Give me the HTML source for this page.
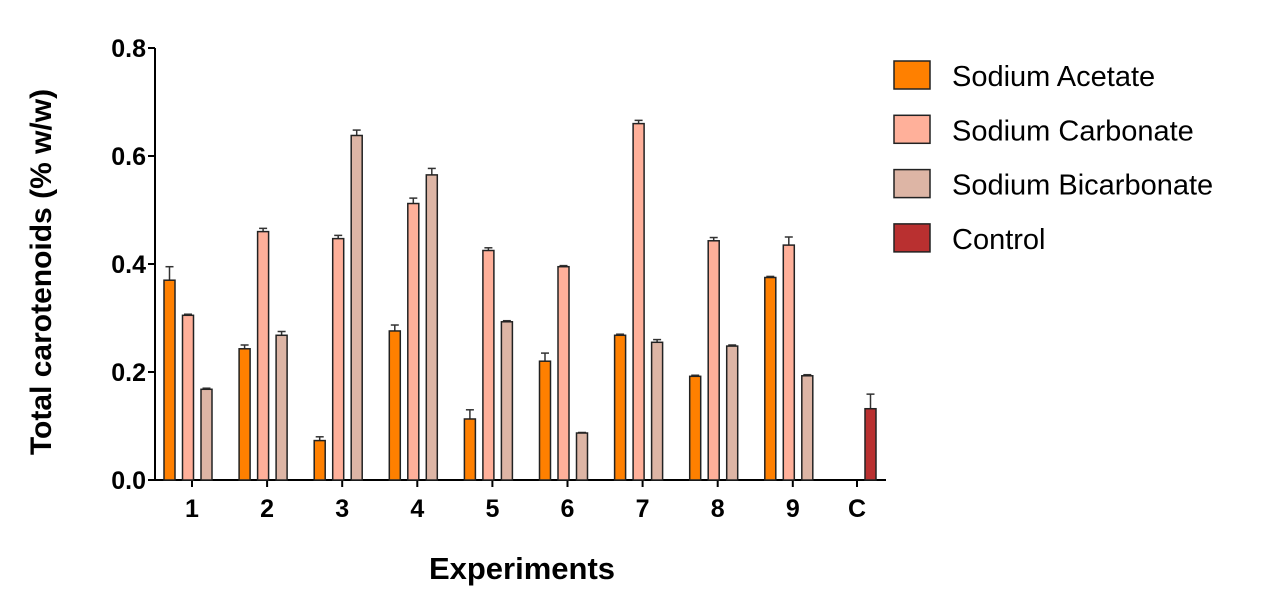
<!DOCTYPE html>
<html><head><meta charset="utf-8"><style>
body{margin:0;background:#fff;}
svg text{font-family:"Liberation Sans",Arial,sans-serif;}
</style></head><body>
<svg id="chart" width="1262" height="602" xmlns="http://www.w3.org/2000/svg"></svg>
<script>
const categories=["1","2","3","4","5","6","7","8","9","C"];
const acetate=[0.370,0.243,0.073,0.276,0.113,0.220,0.268,0.192,0.375,null];
const acetateErr=[0.025,0.007,0.007,0.011,0.017,0.015,0.002,0.002,0.002,null];
const carbonate=[0.305,0.460,0.447,0.512,0.425,0.395,0.660,0.443,0.435,null];
const carbonateErr=[0.002,0.006,0.006,0.010,0.005,0.002,0.006,0.006,0.015,null];
const bicarbonate=[0.168,0.268,0.638,0.565,0.293,0.087,0.255,0.248,0.193,null];
const bicarbonateErr=[0.002,0.007,0.010,0.012,0.002,0.001,0.005,0.002,0.002,null];
const control=[null,null,null,null,null,null,null,null,null,0.132];
const controlErr=[null,null,null,null,null,null,null,null,null,0.027];
const yTicks=[0,0.2,0.4,0.6,0.8];
const yTickLabels=["0.0","0.2","0.4","0.6","0.8"];
const seriesNames=["Sodium Acetate","Sodium Carbonate","Sodium Bicarbonate","Control"];
const colors=["#ff8000","#ffb09a","#ddb5a5","#b93030"];

const svg=document.getElementById('chart');
const NS="http://www.w3.org/2000/svg";
function mk(t,a,p){const e=document.createElementNS(NS,t);for(const k in a)e.setAttribute(k,a[k]);(p||svg).appendChild(e);return e;}
const y=v=>480-v*540;
const x=i=>i<9?192+i*75.1:792+65;

let ax=mk('line',{x1:155,y1:48,x2:155,y2:480,stroke:'#000','stroke-width':2});


let bx=mk('line',{x1:154,y1:480,x2:886,y2:480,stroke:'#000','stroke-width':2});


yTicks.forEach((t,i)=>{
  const l=mk('line',{x1:148,y1:y(t),x2:155,y2:y(t),stroke:'#000','stroke-width':2});
  
  
  const tx=mk('text',{x:146,y:y(t)+9,'text-anchor':'end','font-size':25,'font-weight':'bold'});
  tx.textContent=yTickLabels[i];
  
  
});
categories.forEach((c,i)=>{
  const l=mk('line',{x1:x(i),y1:480,x2:x(i),y2:487,stroke:'#000','stroke-width':2});
  
  
  const tx=mk('text',{x:x(i),y:517,'text-anchor':'middle','font-size':25,'font-weight':'bold'});
  tx.textContent=c;
  
  
});
const series=[[acetate,acetateErr,-22.5],[carbonate,carbonateErr,-4],[bicarbonate,bicarbonateErr,14.5],[control,controlErr,13.5]];
series.forEach((s,si)=>{
  s[0].forEach((v,i)=>{
    if(v==null)return;
    const cx=x(i)+s[2];
    const e=s[1][i];
    const el=mk('line',{x1:cx,y1:y(v),x2:cx,y2:y(v+e),stroke:'#333','stroke-width':1.5});
    
    
    const ec=mk('line',{x1:cx-4,y1:y(v+e),x2:cx+4,y2:y(v+e),stroke:'#333','stroke-width':1.5});
    
    
    const r=mk('rect',{x:cx-5.5,y:y(v),width:11,height:480-y(v),fill:colors[si],stroke:'#222','stroke-width':1.5});
    
    
  });
});
seriesNames.forEach((n,i)=>{
  const yy=61+i*54.3;
  const r=mk('rect',{x:894,y:yy,width:36,height:28,fill:colors[i],stroke:'#222','stroke-width':1.5});
  
  
  const t=mk('text',{x:952,y:yy+25,'font-size':29,textLength:0});
  t.removeAttribute('textLength');
  t.textContent=n;
  
  
});
const yt=mk('text',{x:0,y:0,'text-anchor':'middle','font-size':30,'font-weight':'bold',transform:'translate(51,272) rotate(-90)'});
yt.textContent="Total carotenoids (% w/w)";


const xt=mk('text',{x:522,y:579,'text-anchor':'middle','font-size':31,'font-weight':'bold'});
xt.textContent="Experiments";


</script>
</body></html>
